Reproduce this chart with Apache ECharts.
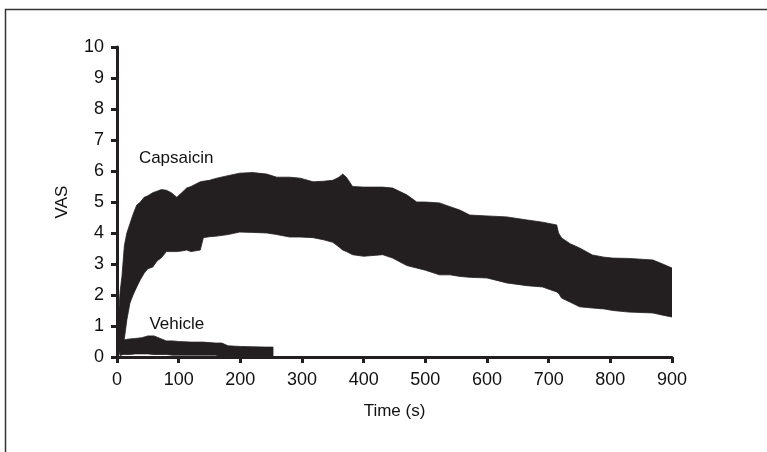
<!DOCTYPE html>
<html>
<head>
<meta charset="utf-8">
<script src="https://cdn.jsdelivr.net/npm/echarts@6/dist/echarts.min.js"></script>
<style>html,body{margin:0;padding:0;background:#fff}#c{width:767px;height:452px}</style>
</head>
<body>
<div id="c"></div>
<script>
// Capsaicin: time (s), lower and upper edge of the mean ± error band (VAS)
const capTime  = [0,3,5,8,12,16,21,26,32,38,44,50,58,65,72,80,88,97,105,113,120,135,140,150,162,180,199,220,243,259,280,297,318,335,350,360,366,372,382,400,431,447,470,486,500,523,540,556,572,600,632,665,690,713,716,721,735,750,771,790,804,830,869,885,900];
const capUpper = [0.3,1.5,2.1,2.6,3.6,4.0,4.3,4.6,4.9,5.0,5.15,5.2,5.3,5.35,5.4,5.38,5.3,5.15,5.3,5.45,5.5,5.65,5.67,5.7,5.77,5.85,5.93,5.95,5.9,5.8,5.8,5.77,5.65,5.67,5.7,5.8,5.9,5.8,5.5,5.48,5.48,5.45,5.23,5.0,5.0,4.97,4.85,4.74,4.58,4.55,4.52,4.42,4.35,4.26,4.0,3.84,3.65,3.52,3.29,3.22,3.19,3.18,3.13,3.0,2.87];
const capLower = [0,0.05,0.2,0.4,0.6,1.2,1.74,2.0,2.26,2.5,2.7,2.85,2.9,3.1,3.2,3.4,3.4,3.4,3.42,3.45,3.4,3.45,3.85,3.88,3.9,3.95,4.03,4.02,4.0,3.95,3.87,3.87,3.85,3.78,3.7,3.55,3.45,3.4,3.3,3.25,3.3,3.19,2.95,2.87,2.8,2.65,2.65,2.6,2.57,2.55,2.39,2.3,2.26,2.1,2.06,1.9,1.77,1.62,1.58,1.55,1.5,1.45,1.42,1.35,1.29];

// Vehicle band
const vehTime  = [5,10,20,30,40,50,60,70,80,90,100,120,140,160,170,180,200,220,240,253];
const vehUpper = [0.3,0.55,0.58,0.6,0.62,0.68,0.68,0.6,0.52,0.52,0.5,0.48,0.48,0.45,0.45,0.36,0.34,0.33,0.32,0.32];
const vehLower = [0.05,0.08,0.08,0.1,0.1,0.1,0.08,0.08,0.08,0.06,0.06,0.06,0.06,0.06,0,0,0,0,0,0];

// Axis ticks
const xTicks = [0,100,200,300,400,500,600,700,800,900];
const yTicks = [0,1,2,3,4,5,6,7,8,9,10];

// Series labels [name, time, VAS]
const seriesLabels = [["Capsaicin", 96, 6.4], ["Vehicle", 97, 1.06]];

const INK = '#231f20';
const TXT = '#111';
const FONT = 'Liberation Sans';

function bandSeries(name, t, lo, hi) {
  return {
    type: 'custom', name: name, silent: true, clip: true,
    encode: { x: 0, y: [1, 2] },
    data: t.map((x, i) => [x, lo[i], hi[i]]),
    renderItem: function (params, api) {
      if (params.dataIndex !== 0) return null;
      const top = t.map((x, i) => api.coord([x, hi[i]]));
      const bot = t.map((x, i) => api.coord([x, lo[i]])).reverse();
      return { type: 'polygon', shape: { points: top.concat(bot) },
        style: { fill: INK, stroke: INK, lineWidth: 0.8 } };
    }
  };
}

const chart = echarts.init(document.getElementById('c'));
chart.setOption({
  animation: false,
  backgroundColor: '#fff',
  grid: { left: 117, right: 95, top: 47, bottom: 95 },
  graphic: [
    { type: 'polyline', shape: { points: [[5.5, 452], [5.5, 9.5], [767, 9.5]] },
      style: { stroke: '#333', lineWidth: 1.5, fill: null } }
  ],
  xAxis: {
    type: 'value', min: xTicks[0], max: xTicks[xTicks.length - 1], interval: 100,
    name: 'Time (s)', nameLocation: 'middle', nameGap: 46,
    nameTextStyle: { fontFamily: FONT, fontSize: 17, color: TXT },
    axisLine: { lineStyle: { color: INK, width: 3 } },
    axisTick: { length: 6, lineStyle: { color: INK, width: 3 } },
    axisLabel: { fontFamily: FONT, fontSize: 18, color: TXT, margin: 14 },
    splitLine: { show: false }
  },
  yAxis: {
    type: 'value', min: yTicks[0], max: yTicks[yTicks.length - 1], interval: 1,
    name: 'VAS', nameLocation: 'middle', nameGap: 46,
    nameTextStyle: { fontFamily: FONT, fontSize: 17, color: TXT },
    axisLine: { show: true, lineStyle: { color: INK, width: 3 } },
    axisTick: { show: true, length: 6, lineStyle: { color: INK, width: 3 } },
    axisLabel: { fontFamily: FONT, fontSize: 18, color: TXT, margin: 13 },
    splitLine: { show: false }
  },
  series: [
    bandSeries('Capsaicin', capTime, capLower, capUpper),
    bandSeries('Vehicle', vehTime, vehLower, vehUpper),
    { type: 'scatter', symbolSize: 0, silent: true,
      itemStyle: { opacity: 1 },
      data: seriesLabels.map(d => ({ value: [d[1], d[2]], name: d[0] })),
      label: { show: true, position: 'inside', formatter: p => p.name, opacity: 1,
        fontFamily: FONT, fontSize: 17, color: TXT, textBorderWidth: 0 } }
  ]
});
</script>
</body>
</html>
